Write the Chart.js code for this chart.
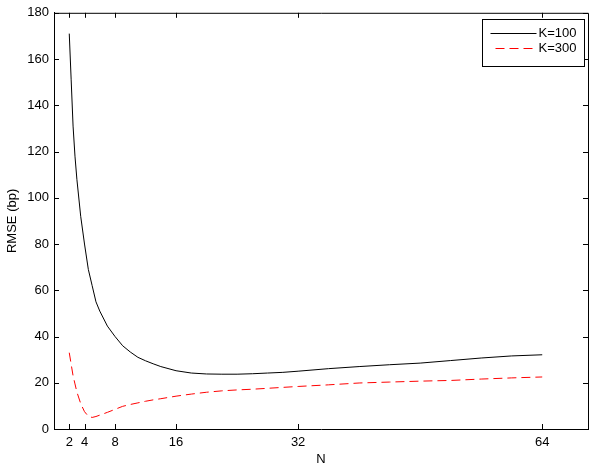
<!DOCTYPE html>
<html>
<head>
<meta charset="utf-8">
<script src="https://cdn.jsdelivr.net/npm/chart.js@4.4.1/dist/chart.umd.min.js"></script>
<style>
  html, body { margin: 0; padding: 0; background: #fff; }
  #wrap { width: 600px; height: 474px; }
</style>
</head>
<body>
<div id="wrap"><canvas id="c" width="600" height="474"></canvas></div>
<script>
// N values (x)
const nValues = [2, 2.25, 2.5, 2.75, 3, 3.5, 4, 4.5, 5, 5.5, 6, 7, 8, 9, 10, 11, 12, 13, 14, 16,
  18, 20, 22, 24, 26, 28, 30, 32, 36, 40, 44, 48, 52, 56, 60, 64];
const k100 = [171, 151, 131, 118, 108, 92, 80, 69, 62, 55, 51, 44.5, 40, 36, 33.3, 31, 29.5, 28.2, 27, 25.2,
  24.2, 23.8, 23.7, 23.7, 23.9, 24.2, 24.5, 25, 26.1, 27, 27.8, 28.5, 29.6, 30.7, 31.6, 32.1];
const k300 = [33, 28, 23, 19.5, 16, 11, 7.5, 5.5, 5, 5.4, 6, 7.2, 8.5, 9.8, 10.6, 11.3, 12, 12.6, 13.1, 14.2,
  15.1, 15.9, 16.5, 16.9, 17.2, 17.6, 18, 18.4, 19.1, 19.9, 20.3, 20.7, 21, 21.6, 22.1, 22.5];
const seriesLabels = ['K=100', 'K=300'];
const xTicks = [2, 4, 8, 16, 32, 64];

const FONT = 'Liberation Sans, Arial, Helvetica, sans-serif';
const FS = 13;

const toPts = ys => nValues.map((n, i) => ({x: n, y: ys[i]}));

// MATLAB style box: inward ticks on all 4 sides + top/right border
const boxTicks = {
  id: 'boxTicks',
  afterDatasetsDraw(chart) {
    const {ctx, chartArea: a, scales} = chart;
    const len = 5;
    ctx.save();
    ctx.strokeStyle = '#000';
    ctx.lineWidth = 1;
    ctx.beginPath();
    ctx.moveTo(a.left, a.top + 0.5);
    ctx.lineTo(a.right + 0.5, a.top + 0.5);
    ctx.lineTo(a.right + 0.5, a.bottom);
    scales.x.ticks.forEach(t => {
      const px = Math.round(scales.x.getPixelForValue(t.value)) + 0.5;
      ctx.moveTo(px, a.bottom); ctx.lineTo(px, a.bottom - len);
      ctx.moveTo(px, a.top); ctx.lineTo(px, a.top + len);
    });
    scales.y.ticks.forEach(t => {
      const py = Math.round(scales.y.getPixelForValue(t.value)) + 0.5;
      ctx.moveTo(a.left, py); ctx.lineTo(a.left + len, py);
      ctx.moveTo(a.right, py); ctx.lineTo(a.right - len, py);
    });
    ctx.stroke();
    ctx.restore();
  }
};

// boxed legend in the top right corner
const boxLegend = {
  id: 'boxLegend',
  afterDraw(chart) {
    const {ctx, chartArea: a} = chart;
    const w = 102, h = 47;
    const x0 = Math.round(a.right - 4 - w) + 0.5;
    const y0 = Math.round(a.top + 6) + 0.5;
    ctx.save();
    ctx.fillStyle = '#fff';
    ctx.fillRect(x0, y0, w, h);
    ctx.strokeStyle = '#000';
    ctx.lineWidth = 1;
    ctx.strokeRect(x0, y0, w, h);
    chart.data.datasets.forEach((ds, i) => {
      const y = Math.round(y0 + 13 + i * 15) + 0.5;
      ctx.beginPath();
      ctx.strokeStyle = ds.borderColor;
      ctx.setLineDash(ds.borderDash || []);
      ctx.lineDashOffset = ds.borderDash ? -5 : 0;
      ctx.moveTo(x0 + 8, y);
      ctx.lineTo(x0 + 54, y);
      ctx.stroke();
      ctx.setLineDash([]);
      ctx.fillStyle = '#000';
      ctx.font = FS + 'px ' + FONT;
      ctx.textBaseline = 'middle';
      ctx.fillText(ds.label, x0 + 56, y);
    });
    ctx.restore();
  }
};

new Chart(document.getElementById('c'), {
  type: 'line',
  data: {
    datasets: [
      {label: seriesLabels[0], data: toPts(k100), borderColor: '#000000', borderWidth: 1,
        pointRadius: 0, tension: 0, fill: false},
      {label: seriesLabels[1], data: toPts(k300), borderColor: '#ff0000', borderWidth: 1,
        borderDash: [9, 5], pointRadius: 0, tension: 0, fill: false}
    ]
  },
  options: {
    responsive: false,
    animation: false,
    layout: {padding: {left: 0, right: 12, top: 9, bottom: 0}},
    plugins: {legend: {display: false}, tooltip: {enabled: false}},
    scales: {
      x: {
        type: 'linear', min: 0, max: 70,
        afterBuildTicks: s => { s.ticks = xTicks.map(v => ({value: v})); },
        afterFit: s => { s.height = 45; },
        grid: {drawOnChartArea: false, drawTicks: false},
        border: {display: true, color: '#000', width: 1},
        ticks: {color: '#000', padding: 6, autoSkip: false, maxRotation: 0,
          font: {size: FS, family: FONT}},
        title: {display: true, text: 'N', color: '#000', padding: {top: 0, bottom: 7},
          font: {size: FS, family: FONT}}
      },
      y: {
        min: 0, max: 180,
        afterFit: s => { s.width = 54; },
        grid: {drawOnChartArea: false, drawTicks: false},
        border: {display: true, color: '#000', width: 1},
        ticks: {stepSize: 20, color: '#000', padding: 5, font: {size: FS, family: FONT}},
        title: {display: true, text: 'RMSE (bp)', color: '#000', padding: {top: 5, bottom: 0},
          font: {size: FS, family: FONT}}
      }
    }
  },
  plugins: [boxTicks, boxLegend]
});
</script>
</body>
</html>
